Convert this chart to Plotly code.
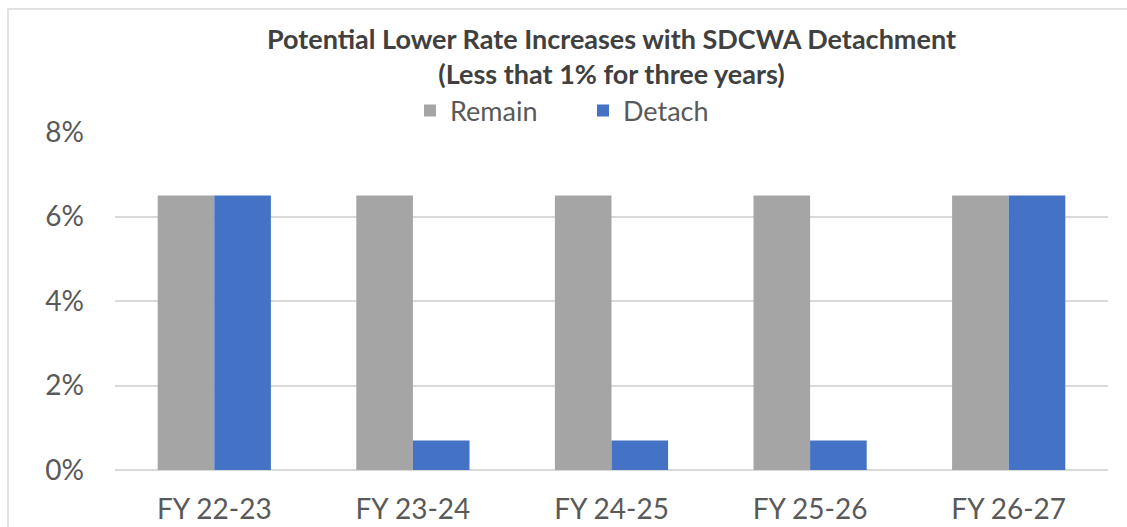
import plotly.graph_objects as go

# ---- data ----
categories = ['FY 22-23', 'FY 23-24', 'FY 24-25', 'FY 25-26', 'FY 26-27']
remain = [0.065, 0.065, 0.065, 0.065, 0.065]
detach = [0.065, 0.007, 0.007, 0.007, 0.065]

FONT = 'Lato, Calibri, Carlito, sans-serif'
TXT = '#595959'

fig = go.Figure()
fig.add_trace(go.Bar(x=categories, y=remain, name='Remain', marker=dict(color='#A5A5A5', line=dict(width=0))))
fig.add_trace(go.Bar(x=categories, y=detach, name='Detach', marker=dict(color='#4472C4', line=dict(width=0))))

fig.update_layout(
    width=1127, height=527,
    paper_bgcolor='white', plot_bgcolor='white',
    margin=dict(l=115, r=19, t=132, b=57, autoexpand=False),
    barmode='group', bargap=0.43, bargroupgap=0,
    font=dict(family=FONT, size=27, color=TXT),
    title=dict(
        text='<b>Potential Lower Rate Increases with SDCWA Detachment<br>(Less that 1% for three years)</b>',
        x=0.5, xanchor='center', xref='paper', y=1 - 49 / 527, yanchor='middle', yref='container',
        font=dict(family=FONT, size=27, color='#404040'),
    ),
    legend=dict(orientation='h', x=583 / 1127, xanchor='center', xref='container',
                y=1 - 111 / 527, yanchor='middle', yref='container',
                font=dict(family=FONT, size=27, color=TXT),
                itemwidth=30, entrywidth=128, traceorder='normal', bgcolor='rgba(0,0,0,0)'),
    xaxis=dict(showgrid=False, showline=False, ticks='', ticklabelstandoff=20,
               tickfont=dict(size=28, color=TXT)),
    yaxis=dict(range=[0, 0.08], dtick=0.02, tickformat='.0%', showgrid=True,
               gridcolor='#D9D9D9', gridwidth=1.5, zeroline=True, zerolinecolor='#D9D9D9',
               zerolinewidth=2, showline=False, ticks='', ticklabelstandoff=30,
               tickfont=dict(size=28, color=TXT)),
)

# chart border
fig.add_shape(type='rect', xref='paper', yref='paper',
              x0=-107 / 993, x1=1.2, y0=-0.5, y1=1 + 123 / 338,
              line=dict(color='#D9D9D9', width=1.5), fillcolor='rgba(0,0,0,0)', layer='below')

fig.write_html('out.html', config={'displayModeBar': False},
               post_script="document.body.style.margin='0px';")
